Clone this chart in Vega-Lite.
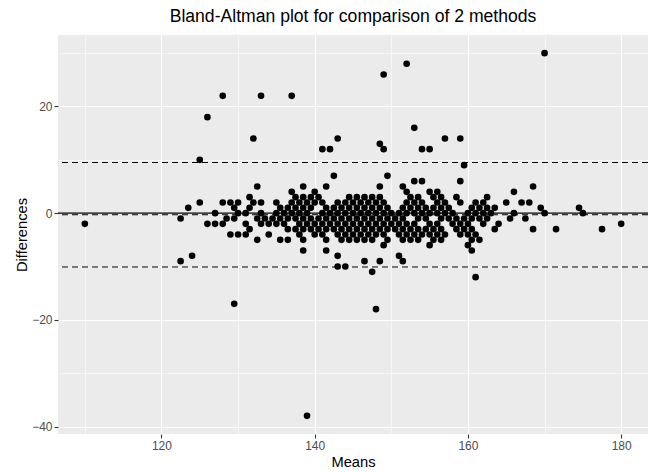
{
  "$schema": "https://vega.github.io/schema/vega-lite/v6.json",
  "width": 590,
  "height": 399,
  "autosize": "none",
  "padding": {"left": 58, "top": 35, "right": 0, "bottom": 38},
  "config": {
    "view": {"fill": "#EBEBEB", "stroke": null},
    "font": "Liberation Sans"
  },
  "title": {
    "text": "Bland-Altman plot for comparison of 2 methods",
    "anchor": "middle",
    "frame": "group",
    "fontSize": 17.6,
    "fontWeight": "normal",
    "color": "black",
    "font": "Liberation Sans",
    "offset": 9
  },
  "datasets": {
    "pts": [
      {"m":110,"d":-2},{"m":170,"d":30},{"m":152,"d":28},{"m":149,"d":26},{"m":128,"d":22},{"m":133,"d":22},{"m":137,"d":22},{"m":126,"d":18},{"m":153,"d":16},
      {"m":132,"d":14},{"m":143,"d":14},{"m":157,"d":14},{"m":159,"d":14},{"m":148.5,"d":13},{"m":141,"d":12},{"m":142,"d":12},{"m":149,"d":12},{"m":154,"d":12},{"m":155,"d":12},
      {"m":125,"d":10},{"m":159.5,"d":9},{"m":142.5,"d":7},{"m":149.5,"d":7},{"m":153,"d":6},{"m":154,"d":6},{"m":159,"d":6},
      {"m":132.5,"d":5},{"m":138.5,"d":5},{"m":141.5,"d":5},{"m":148.5,"d":5},{"m":151.5,"d":5},{"m":168.5,"d":5},
      {"m":137,"d":4},{"m":140,"d":4},{"m":152,"d":4},{"m":155,"d":4},{"m":156,"d":4},{"m":166,"d":4},
      {"m":131.5,"d":3},{"m":137.5,"d":3},{"m":138.5,"d":3},{"m":139.5,"d":3},{"m":140.5,"d":3},{"m":144.5,"d":3},{"m":145.5,"d":3},{"m":146.5,"d":3},{"m":147.5,"d":3},{"m":148.5,"d":3},{"m":152.5,"d":3},{"m":153.5,"d":3},{"m":155.5,"d":3},{"m":156.5,"d":3},{"m":158.5,"d":3},{"m":162.5,"d":3},
      {"m":125,"d":2},{"m":128,"d":2},{"m":129,"d":2},{"m":130,"d":2},{"m":132,"d":2},{"m":133,"d":2},{"m":135,"d":2},{"m":137,"d":2},{"m":138,"d":2},{"m":139,"d":2},{"m":140,"d":2},{"m":141,"d":2},{"m":143,"d":2},{"m":144,"d":2},{"m":145,"d":2},{"m":146,"d":2},{"m":147,"d":2},{"m":148,"d":2},{"m":149,"d":2},{"m":152,"d":2},{"m":153,"d":2},{"m":154,"d":2},{"m":156,"d":2},{"m":157,"d":2},{"m":159,"d":2},{"m":161,"d":2},{"m":162,"d":2},{"m":165,"d":2},{"m":167,"d":2},{"m":168,"d":2},
      {"m":123.5,"d":1},{"m":129.5,"d":1},{"m":131.5,"d":1},{"m":135.5,"d":1},{"m":136.5,"d":1},{"m":137.5,"d":1},{"m":138.5,"d":1},{"m":139.5,"d":1},{"m":141.5,"d":1},{"m":142.5,"d":1},{"m":143.5,"d":1},{"m":144.5,"d":1},{"m":145.5,"d":1},{"m":146.5,"d":1},{"m":147.5,"d":1},{"m":148.5,"d":1},{"m":149.5,"d":1},{"m":151.5,"d":1},{"m":152.5,"d":1},{"m":153.5,"d":1},{"m":154.5,"d":1},{"m":155.5,"d":1},{"m":156.5,"d":1},{"m":157.5,"d":1},{"m":160.5,"d":1},{"m":161.5,"d":1},{"m":162.5,"d":1},{"m":163.5,"d":1},{"m":169.5,"d":1},{"m":174.5,"d":1},
      {"m":127,"d":0},{"m":130,"d":0},{"m":131,"d":0},{"m":133,"d":0},{"m":135,"d":0},{"m":136,"d":0},{"m":137,"d":0},{"m":138,"d":0},{"m":139,"d":0},{"m":141,"d":0},{"m":142,"d":0},{"m":143,"d":0},{"m":144,"d":0},{"m":145,"d":0},{"m":146,"d":0},{"m":147,"d":0},{"m":148,"d":0},{"m":149,"d":0},{"m":150,"d":0},{"m":151,"d":0},{"m":152,"d":0},{"m":153,"d":0},{"m":154,"d":0},{"m":155,"d":0},{"m":156,"d":0},{"m":157,"d":0},{"m":158,"d":0},{"m":160,"d":0},{"m":161,"d":0},{"m":162,"d":0},{"m":163,"d":0},{"m":166,"d":0},{"m":170,"d":0},{"m":175,"d":0},
      {"m":122.5,"d":-1},{"m":128.5,"d":-1},{"m":129.5,"d":-1},{"m":132.5,"d":-1},{"m":133.5,"d":-1},{"m":134.5,"d":-1},{"m":135.5,"d":-1},{"m":136.5,"d":-1},{"m":137.5,"d":-1},{"m":138.5,"d":-1},{"m":139.5,"d":-1},{"m":140.5,"d":-1},{"m":141.5,"d":-1},{"m":142.5,"d":-1},{"m":143.5,"d":-1},{"m":144.5,"d":-1},{"m":145.5,"d":-1},{"m":146.5,"d":-1},{"m":147.5,"d":-1},{"m":148.5,"d":-1},{"m":149.5,"d":-1},{"m":150.5,"d":-1},{"m":151.5,"d":-1},{"m":153.5,"d":-1},{"m":154.5,"d":-1},{"m":156.5,"d":-1},{"m":157.5,"d":-1},{"m":158.5,"d":-1},{"m":159.5,"d":-1},{"m":160.5,"d":-1},{"m":161.5,"d":-1},{"m":162.5,"d":-1},{"m":165.5,"d":-1},{"m":167.5,"d":-1},
      {"m":126,"d":-2},{"m":127,"d":-2},{"m":128,"d":-2},{"m":131,"d":-2},{"m":133,"d":-2},{"m":134,"d":-2},{"m":135,"d":-2},{"m":136,"d":-2},{"m":138,"d":-2},{"m":139,"d":-2},{"m":140,"d":-2},{"m":141,"d":-2},{"m":142,"d":-2},{"m":143,"d":-2},{"m":144,"d":-2},{"m":145,"d":-2},{"m":146,"d":-2},{"m":147,"d":-2},{"m":148,"d":-2},{"m":149,"d":-2},{"m":150,"d":-2},{"m":151,"d":-2},{"m":152,"d":-2},{"m":153,"d":-2},{"m":155,"d":-2},{"m":156,"d":-2},{"m":158,"d":-2},{"m":159,"d":-2},{"m":160,"d":-2},{"m":162,"d":-2},{"m":164,"d":-2},{"m":180,"d":-2},
      {"m":131.5,"d":-3},{"m":136.5,"d":-3},{"m":137.5,"d":-3},{"m":138.5,"d":-3},{"m":139.5,"d":-3},{"m":140.5,"d":-3},{"m":141.5,"d":-3},{"m":142.5,"d":-3},{"m":143.5,"d":-3},{"m":144.5,"d":-3},{"m":145.5,"d":-3},{"m":146.5,"d":-3},{"m":147.5,"d":-3},{"m":148.5,"d":-3},{"m":149.5,"d":-3},{"m":150.5,"d":-3},{"m":151.5,"d":-3},{"m":152.5,"d":-3},{"m":153.5,"d":-3},{"m":154.5,"d":-3},{"m":155.5,"d":-3},{"m":156.5,"d":-3},{"m":158.5,"d":-3},{"m":159.5,"d":-3},{"m":160.5,"d":-3},{"m":163.5,"d":-3},{"m":168.5,"d":-3},{"m":171.5,"d":-3},{"m":177.5,"d":-3},
      {"m":129,"d":-4},{"m":130,"d":-4},{"m":131,"d":-4},{"m":134,"d":-4},{"m":138,"d":-4},{"m":140,"d":-4},{"m":141,"d":-4},{"m":143,"d":-4},{"m":144,"d":-4},{"m":145,"d":-4},{"m":146,"d":-4},{"m":147,"d":-4},{"m":148,"d":-4},{"m":149,"d":-4},{"m":151,"d":-4},{"m":152,"d":-4},{"m":153,"d":-4},{"m":154,"d":-4},{"m":155,"d":-4},{"m":156,"d":-4},{"m":157,"d":-4},{"m":159,"d":-4},{"m":160,"d":-4},{"m":161,"d":-4},
      {"m":132.5,"d":-5},{"m":135.5,"d":-5},{"m":136.5,"d":-5},{"m":138.5,"d":-5},{"m":141.5,"d":-5},{"m":143.5,"d":-5},{"m":144.5,"d":-5},{"m":145.5,"d":-5},{"m":146.5,"d":-5},{"m":147.5,"d":-5},{"m":149.5,"d":-5},{"m":151.5,"d":-5},{"m":152.5,"d":-5},{"m":153.5,"d":-5},{"m":155.5,"d":-5},{"m":156.5,"d":-5},{"m":160.5,"d":-5},{"m":161.5,"d":-5},
      {"m":149,"d":-6},{"m":155,"d":-6},{"m":160,"d":-6},
      {"m":138.5,"d":-7},{"m":141.5,"d":-7},{"m":160.5,"d":-7},
      {"m":124,"d":-8},{"m":143,"d":-8},{"m":151,"d":-8},
      {"m":122.5,"d":-9},{"m":146.5,"d":-9},{"m":148.5,"d":-9},{"m":151.5,"d":-9},
      {"m":143,"d":-10},{"m":144,"d":-10},{"m":147.5,"d":-11},{"m":161,"d":-12},
      {"m":129.5,"d":-17},{"m":148,"d":-18},{"m":139,"d":-38}
    ],
    "zero": [{"y": 0}],
    "limits": [{"y": -0.3}, {"y": 9.5}, {"y": -10.1}]
  },
  "layer": [
    {
      "data": {"name": "pts"},
      "mark": {"type": "circle", "size": 44, "color": "black", "opacity": 1},
      "encoding": {
        "x": {
          "field": "m", "type": "quantitative", "title": "Means",
          "scale": {"domain": [106.5, 183.5], "nice": false, "zero": false},
          "axis": {
            "values": [110, 120, 130, 140, 150, 160, 170, 180],
            "labelExpr": "datum.value % 20 === 0 ? datum.label : ''",
            "grid": true, "gridColor": "white",
            "gridWidth": {"condition": {"test": "datum.value % 20 === 0", "value": 1.1}, "value": 0.55},
            "domain": false,
            "tickColor": "#333333", "tickSize": 4, "tickWidth": 1.1,
            "tickOpacity": {"condition": {"test": "datum.value % 20 === 0", "value": 1}, "value": 0},
            "labelColor": "#4D4D4D", "labelFontSize": 12, "labelPadding": 2, "labelFont": "Liberation Sans",
            "titleFontSize": 14.7, "titleColor": "black", "titleFontWeight": "normal", "titleFont": "Liberation Sans", "titlePadding": 3
          }
        },
        "y": {
          "field": "d", "type": "quantitative", "title": "Differences",
          "scale": {"domain": [-41.4, 33.4], "nice": false, "zero": false},
          "axis": {
            "values": [-40, -30, -20, -10, 0, 10, 20, 30],
            "labelExpr": "datum.value % 20 === 0 ? datum.label : ''",
            "grid": true, "gridColor": "white",
            "gridWidth": {"condition": {"test": "datum.value % 20 === 0", "value": 1.1}, "value": 0.55},
            "domain": false,
            "tickColor": "#333333", "tickSize": 4, "tickWidth": 1.1,
            "tickOpacity": {"condition": {"test": "datum.value % 20 === 0", "value": 1}, "value": 0},
            "labelColor": "#4D4D4D", "labelFontSize": 12, "labelPadding": 2, "labelFont": "Liberation Sans",
            "titleFontSize": 14.7, "titleColor": "black", "titleFontWeight": "normal", "titleFont": "Liberation Sans", "titlePadding": 2
          }
        }
      }
    },
    {
      "data": {"name": "zero"},
      "mark": {"type": "rule", "color": "black", "strokeWidth": 1.1},
      "encoding": {"y": {"field": "y", "type": "quantitative"}}
    },
    {
      "data": {"name": "limits"},
      "mark": {"type": "rule", "color": "black", "strokeWidth": 1.1, "strokeDash": [6, 4]},
      "encoding": {"y": {"field": "y", "type": "quantitative"}}
    }
  ]
}
